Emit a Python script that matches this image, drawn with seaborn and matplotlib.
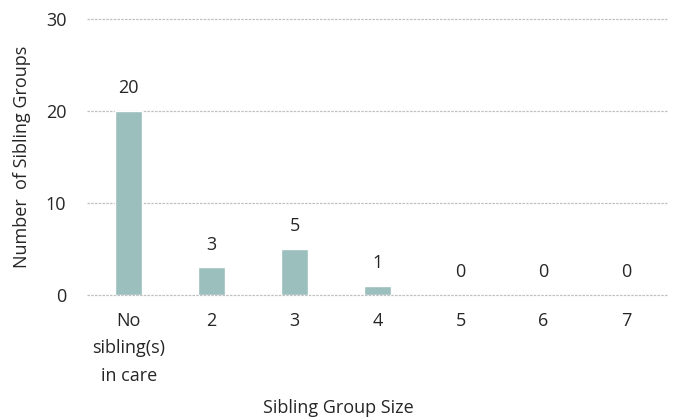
import matplotlib
matplotlib.use("Agg")
import matplotlib.pyplot as plt
import seaborn as sns
import pandas as pd

categories = ["No\nsibling(s)\nin care", "2", "3", "4", "5", "6", "7"]
values = [20, 3, 5, 1, 0, 0, 0]
yticks = [0, 10, 20, 30]

sns.set_theme(style="white")
plt.rcParams['font.family'] = ['Open Sans', 'DejaVu Sans']

df = pd.DataFrame({"cat": categories, "val": values})
txt = "#262626"
fs = 13

fig = plt.figure(figsize=(6.76, 4.19), dpi=100)
ax = fig.add_axes([0.129, 0.296, 0.859, 0.659])
sns.barplot(data=df, x="cat", y="val", color="#9bbfbc", width=0.33, saturation=1, ax=ax, zorder=3)

ax.set_ylim(0, 30)
ax.set_yticks(yticks)
ax.set_xlim(-0.5, len(categories) - 0.5)
ax.yaxis.grid(True, color="#c0c0c0", linestyle=(0, (2, 1)), linewidth=0.9, zorder=0)
for gl in ax.get_ygridlines():
    gl.set_clip_on(False)
ax.xaxis.grid(False)
for s in ax.spines.values():
    s.set_visible(False)
ax.tick_params(axis="y", length=0, labelsize=fs, colors=txt, pad=15)
ax.tick_params(axis="x", length=0, labelsize=fs, colors=txt, pad=12)
for lbl in ax.get_xticklabels():
    lbl.set_linespacing(1.7)
    lbl.set_verticalalignment("top")

for i, v in enumerate(values):
    ax.text(i, v + 1.5, str(v), ha="center", va="bottom", fontsize=fs, color=txt)

ax.set_xlabel("Sibling Group Size", fontsize=fs, color=txt, va="center")
ax.xaxis.set_label_coords(0.432, -0.408)
ax.set_ylabel("Number  of Sibling Groups", fontsize=fs, color=txt, va="center")
ax.yaxis.set_label_coords(-0.113, 0.5)

fig.savefig("out.png", dpi=100)
